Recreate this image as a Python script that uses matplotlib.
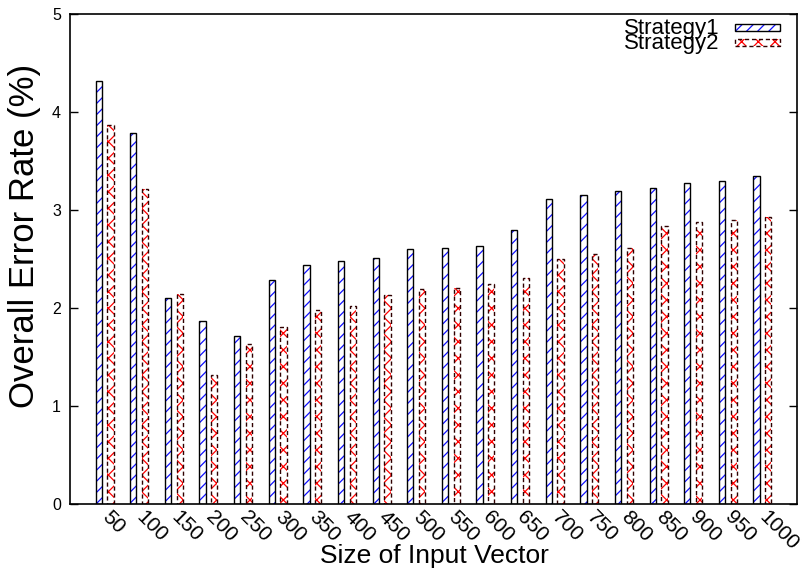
import matplotlib
matplotlib.use("Agg")
import matplotlib.pyplot as plt
from matplotlib.patches import Rectangle
import numpy as np

categories = ["50", "100", "150", "200", "250", "300", "350", "400", "450", "500",
              "550", "600", "650", "700", "750", "800", "850", "900", "950", "1000"]
strategy1 = [4.32, 3.79, 2.10, 1.87, 1.71, 2.29, 2.44, 2.48, 2.51, 2.60,
             2.61, 2.63, 2.80, 3.11, 3.15, 3.19, 3.22, 3.28, 3.30, 3.35]
strategy2 = [3.87, 3.21, 2.14, 1.32, 1.63, 1.81, 1.98, 2.02, 2.13, 2.19,
             2.20, 2.24, 2.31, 2.50, 2.55, 2.61, 2.84, 2.88, 2.90, 2.93]
yticks = [0, 1, 2, 3, 4, 5]
series_names = ["Strategy1", "Strategy2"]

plt.rcParams['font.family'] = ['Liberation Sans', 'DejaVu Sans']
plt.rcParams['hatch.linewidth'] = 0.9

fig = plt.figure(figsize=(8.04, 5.69), dpi=100)
ax = fig.add_axes([70/804, 1-504/569, 727/804, 490/569])

x = np.arange(len(categories))
w = 0.18
off = 0.17

# Strategy1: blue hatch, black solid border
ax.bar(x - off, strategy1, width=w, color='white', edgecolor='#1010ff', hatch='///', linewidth=0)
ax.bar(x - off, strategy1, width=w, fill=False, edgecolor='black', linewidth=1.0)
# Strategy2: red cross hatch, dashed dark border
ax.bar(x + off, strategy2, width=w, color='white', edgecolor='#ff0000', hatch='xx', linewidth=0)
ax.bar(x + off, strategy2, width=w, fill=False, edgecolor='#300000', linewidth=1.0,
       linestyle=(0, (3, 2)))

ax.set_xlim(-1, 20)
ax.set_ylim(0, 5)
ax.set_yticks(yticks)
ax.set_yticklabels([str(v) for v in yticks], fontsize=11.5)
ax.tick_params(axis='y', direction='in', length=6, width=1, right=True, pad=6.5)
ax.set_xticks(x)
ax.set_xticklabels(categories, fontsize=15, rotation=-45, ha='left', va='center',
                   rotation_mode='anchor')
ax.tick_params(axis='x', length=0, pad=7)
for s in ax.spines.values():
    s.set_linewidth(1.2)

# Legend (gnuplot style: text then sample)
ax.text(0.894, 0.9714, series_names[0], transform=ax.transAxes, ha='right', va='center', fontsize=16)
ax.text(0.894, 0.9388, series_names[1], transform=ax.transAxes, ha='right', va='center', fontsize=16)
ax.add_patch(Rectangle((0.9147, 0.9653), 0.0619, 0.0143, transform=ax.transAxes,
                       facecolor='white', edgecolor='#1010ff', hatch='///', linewidth=0))
ax.add_patch(Rectangle((0.9147, 0.9653), 0.0619, 0.0143, transform=ax.transAxes,
                       fill=False, edgecolor='black', linewidth=1.0))
ax.add_patch(Rectangle((0.9147, 0.9347), 0.0619, 0.0133, transform=ax.transAxes,
                       facecolor='white', edgecolor='#ff0000', hatch='xx', linewidth=0))
ax.add_patch(Rectangle((0.9147, 0.9347), 0.0619, 0.0133, transform=ax.transAxes,
                       fill=False, edgecolor='#300000', linewidth=1.0, linestyle=(0, (3, 2))))

fig.text(25/804, 1-236/569, "Overall Error Rate (%)", rotation=90, ha='center', va='center', fontsize=25)
fig.text(434/804, 1-563/569, "Size of Input Vector", ha='center', va='baseline', fontsize=19)

fig.savefig("out.png", dpi=100)
